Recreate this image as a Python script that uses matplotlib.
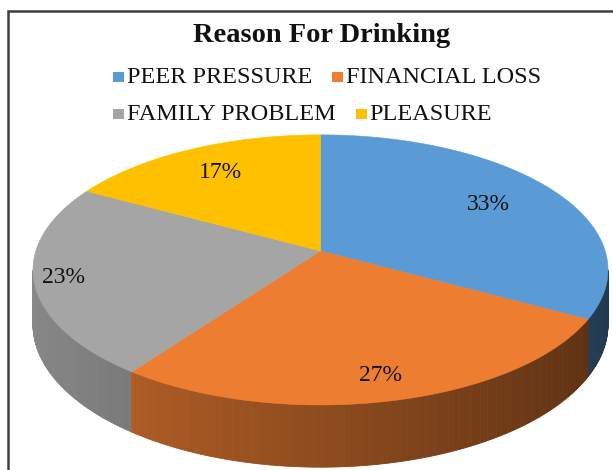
import numpy as np
import matplotlib.pyplot as plt
from matplotlib.patches import Polygon, Rectangle
import matplotlib.colors as mcolors

title = 'Reason For Drinking'
labels = ['PEER PRESSURE', 'FINANCIAL LOSS', 'FAMILY PROBLEM', 'PLEASURE']
values = [33, 27, 23, 17]
colors = ['#5B9BD5', '#ED7D31', '#A5A5A5', '#FFC000']

plt.rcParams['font.family'] = ['Liberation Serif', 'DejaVu Serif']

W, H = 613, 470
fig = plt.figure(figsize=(W / 100, H / 100), dpi=100)
ax = fig.add_axes([0, 0, 1, 1])
ax.set_xlim(0, W)
ax.set_ylim(H, 0)
ax.axis('off')

# pie geometry in pixel units, with a little perspective
cx, cy = 320.5, 251
e = 0.14
a = 287.5 * np.sqrt(1 - e ** 2)
b = 132.4
depth = 53.5


def proj(theta, r=1.0, z=0.0):
    s = 1 / (1 + e * r * np.sin(theta))
    return cx + a * r * np.cos(theta) * s, cy - b * r * np.sin(theta) * s + z * depth * s


fr = np.array(values, float) / sum(values)
edges = np.pi / 2 - 2 * np.pi * np.concatenate([[0], np.cumsum(fr)])

# side wall, drawn in strips, back to front
lo, hi = np.pi + np.arcsin(e), 2 * np.pi - np.arcsin(e)
strips = []
for i in range(len(values)):
    t1, t0 = edges[i], edges[i + 1]   # t0 < t1
    for k in (-1, 0, 1):
        a0, a1 = max(t0 + 2 * np.pi * k, lo), min(t1 + 2 * np.pi * k, hi)
        if a1 <= a0:
            continue
        ts = np.linspace(a0, a1, max(2, int(np.degrees(a1 - a0) * 2) + 1))
        for j in range(len(ts) - 1):
            strips.append((ts[j], ts[j + 1], i))
strips.sort(key=lambda s: -np.sin(0.5 * (s[0] + s[1])))
for t0, t1, i in strips:
    tm = 0.5 * (t0 + t1)
    f = 0.6 - 0.23 * np.cos(tm)
    col = np.clip(np.array(mcolors.to_rgb(colors[i])) * f, 0, 1)
    pts = [proj(t0), proj(t1), proj(t1, z=1), proj(t0, z=1)]
    ax.add_patch(Polygon(pts, closed=True, facecolor=col, edgecolor=col, lw=0.6))

# top face
for i in range(len(values)):
    ts = np.linspace(edges[i], edges[i + 1], 200)
    pts = [proj(0, r=0)] + [proj(t) for t in ts]
    ax.add_patch(Polygon(pts, closed=True, facecolor=colors[i], edgecolor=colors[i], lw=0.4))

# percentage labels
label_r = [0.72, 0.85, 0.9, 0.75]
for i, v in enumerate(values):
    tm = 0.5 * (edges[i] + edges[i + 1])
    x, y = proj(tm, r=label_r[i])
    ax.text(x, y, f'{v}%', ha='center', va='center', fontsize=17, color='#111111')

# title
ax.text(321.5, 42, title, ha='center', va='baseline', fontsize=20.5, fontweight='bold', color='#111111')

# legend, flowed in two rows
fig.canvas.draw()
ren = fig.canvas.get_renderer()
rows = [[0, 1], [2, 3]]
row_base = [83, 120]
x_start = 113
sq = 11
for r, idx in enumerate(rows):
    x = x_start
    for i in idx:
        ax.add_patch(Rectangle((x, row_base[r] - 11), sq, sq - 1, facecolor=colors[i], edgecolor='none'))
        t = ax.text(x + sq + 3, row_base[r], labels[i], ha='left', va='baseline', fontsize=17.5, color='#111111')
        w = t.get_window_extent(ren).width
        x = x + sq + 3 + w + 20

# chart frame (only left and top are visible in the crop)
ax.plot([8, 8, W + 5], [H + 5, 11, 11], color='#3f3f3f', lw=1.8, clip_on=False, solid_joinstyle='miter')

fig.savefig('out.png', dpi=100)
